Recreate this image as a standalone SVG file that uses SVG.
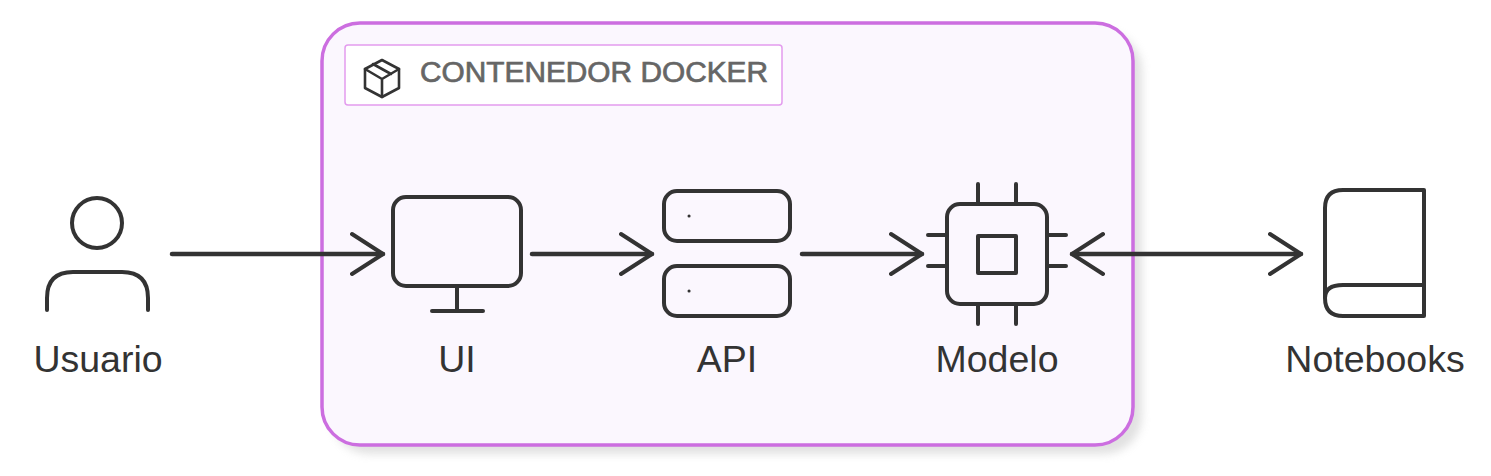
<svg xmlns="http://www.w3.org/2000/svg" width="1491" height="476" viewBox="0 0 1491 476">
<defs>
<filter id="sh" x="-5%" y="-5%" width="112%" height="112%"><feGaussianBlur stdDeviation="4"/></filter>
<marker id="a" viewBox="0 0 36 46" markerWidth="36" markerHeight="46" refX="33" refY="23" orient="auto-start-reverse" markerUnits="userSpaceOnUse"><path d="M2 3L33 23L2 43" fill="none" stroke="#333" stroke-width="4" stroke-linecap="round" stroke-linejoin="round"/></marker>
</defs>
<style>
text{font-family:"Liberation Sans",Arial,sans-serif;font-size:37.5px;fill:#333;text-anchor:middle}
.i{fill:none;stroke:#333;stroke-width:4;stroke-linecap:round;stroke-linejoin:round}
.c{fill:none;stroke:#333;stroke-width:4.5;stroke-linecap:round;marker-end:url(#a)}
</style>
<rect width="1491" height="476" fill="#fff"/>
<g id="docker">
<rect x="331" y="32" width="811" height="422" rx="38" fill="#aaa" opacity=".35" filter="url(#sh)"/>
<rect x="322" y="23" width="811" height="422" rx="38" fill="#fbf7fe" stroke="#cc6ee0" stroke-width="3.5"/>
<rect x="345" y="45" width="437" height="60" rx="3" fill="#fff" stroke="#e39cee" stroke-width="1.5"/>
<g class="i" style="stroke-width:2.6"><path d="M382 60L399 69V88L382 97L365 88V69Z"/><path d="M365 69L382 79L399 69M382 79V97M373 64L391 74"/></g>
<text x="594" y="82" style="font-size:29px;fill:#666;stroke:#666;stroke-width:.7" textLength="348" lengthAdjust="spacingAndGlyphs">CONTENEDOR DOCKER</text>
</g>
<g id="usuario"><circle class="i" cx="97" cy="223" r="25"/><path class="i" d="M47 310V298Q47 272 73 272H122Q148 272 148 298V310"/><text x="98" y="371.5">Usuario</text></g>
<g id="ui"><rect class="i" x="393" y="197" width="128" height="89" rx="13"/><path class="i" d="M457 286V311M432 311H483"/><text x="457" y="371.5">UI</text></g>
<g id="api"><rect class="i" x="664" y="191" width="126" height="50" rx="13"/><rect class="i" x="664" y="266" width="126" height="50" rx="13"/><path class="i" style="stroke-width:3" d="M689 216h.1M689 291h.1"/><text x="727" y="371.5">API</text></g>
<g id="modelo"><rect class="i" x="947" y="204" width="100" height="100" rx="13"/><rect class="i" x="978" y="236" width="38" height="37"/><path class="i" d="M978 184V204M1016 184V204M978 304V324M1016 304V324M928 235H947M928 266H947M1047 235H1066M1047 266H1066"/><text x="997" y="371.5">Modelo</text></g>
<g id="notebooks"><path class="i" d="M1325 298V208Q1325 190 1343 190H1424V316H1343Q1325 316 1325 298Q1325 285 1343 285H1424"/><text x="1375" y="371.5">Notebooks</text></g>
<g id="connectors">
<path class="c" d="M172 254H383"/>
<path class="c" d="M532 254H652"/>
<path class="c" d="M802 254H922"/>
<path class="c" style="marker-start:url(#a)" d="M1072 254H1301"/>
</g>
</svg>
